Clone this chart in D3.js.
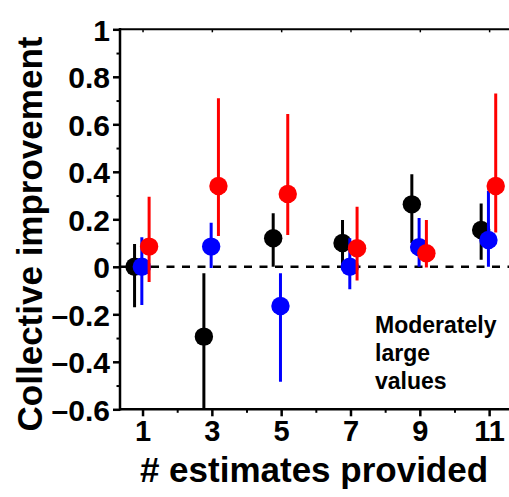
<!DOCTYPE html>
<html>
<head>
<meta charset="utf-8">
<script src="https://cdn.jsdelivr.net/npm/d3@7"></script>
<style>
  html, body { margin: 0; padding: 0; background: #fff; }
  svg { display: block; }
  text { font-family: "Liberation Sans", Arial, Helvetica, sans-serif; font-weight: bold; }
</style>
</head>
<body>
<svg id="chart" width="509" height="497"></svg>
<script>
// ---- data ----
const xValues = [1, 3, 5, 7, 9, 11];
const blackMean = [0.0, -0.294, 0.12, 0.10, 0.263, 0.155];
const blackLow  = [-0.17, -0.6, 0.0, -0.01, 0.10, 0.03];
const blackHigh = [0.096, -0.027, 0.225, 0.197, 0.39, 0.267];
const blueMean  = [0.0, 0.085, -0.165, 0.0, 0.083, 0.113];
const blueLow   = [-0.161, -0.005, -0.484, -0.095, 0.0, 0.0];
const blueHigh  = [0.124, 0.186, -0.027, 0.12, 0.205, 0.32];
const redMean   = [0.085, 0.34, 0.307, 0.078, 0.057, 0.34];
const redLow    = [-0.064, 0.13, 0.134, -0.058, -0.003, 0.144];
const redHigh   = [0.295, 0.71, 0.643, 0.253, 0.197, 0.73];
const yTicks = [-0.6, -0.4, -0.2, 0, 0.2, 0.4, 0.6, 0.8, 1];
const yMinorTicks = [-0.5, -0.3, -0.1, 0.1, 0.3, 0.5, 0.7, 0.9];
const xTicks = [1, 3, 5, 7, 9, 11];
const xMinorTicks = [2, 4, 6, 8, 10];
const xTitle = "# estimates provided";
const yTitle = "Collective improvement";
const noteLines = ["Moderately", "large", "values"];

(function () {
// ---- layout ----
const svg = d3.select("#chart");
const left = 120, topY = 29.3, bottomY = 409.3;
const x = d3.scaleLinear().domain([0.35, 11.65]).range([left, left + 11.3 * 34.66]);
const y = d3.scaleLinear().domain([-0.6, 1]).range([bottomY, topY]);
const fmt = v => v < 0 ? "\u2013" + Math.abs(v) : String(v);

svg.append("defs").append("clipPath").attr("id", "plotclip")
  .append("rect").attr("x", left).attr("y", topY).attr("width", 509 - left).attr("height", bottomY - topY);

// zero dashed line
svg.append("line")
  .attr("x1", left).attr("x2", 509)
  .attr("y1", y(0)).attr("y2", y(0))
  .attr("stroke", "#000").attr("stroke-width", 2.5)
  .attr("stroke-dasharray", "8,7.5");

// series
const series = [
  { color: "#000000", mean: blackMean, low: blackLow, high: blackHigh, off: -0.23 },
  { color: "#0000ff", mean: blueMean, low: blueLow, high: blueHigh, off: -0.02 },
  { color: "#ff0000", mean: redMean, low: redLow, high: redHigh, off: 0.19 }
];
const plot = svg.append("g").attr("clip-path", "url(#plotclip)");
series.forEach(s => {
  const g = plot.append("g");
  const d = xValues.map((xv, i) => ({ x: xv + s.off, m: s.mean[i], lo: s.low[i], hi: s.high[i] }));
  g.selectAll("line").data(d).join("line")
    .attr("x1", p => x(p.x)).attr("x2", p => x(p.x))
    .attr("y1", p => y(p.lo)).attr("y2", p => y(p.hi))
    .attr("stroke", s.color).attr("stroke-width", 3);
  g.selectAll("circle").data(d).join("circle")
    .attr("cx", p => x(p.x)).attr("cy", p => y(p.m))
    .attr("r", 9.2).attr("fill", s.color);
});

// left axis
const yAxis = svg.append("g").attr("transform", `translate(${left},0)`)
  .call(d3.axisLeft(y).tickValues(yTicks).tickSize(7).tickPadding(3).tickFormat(fmt).tickSizeOuter(0));
yAxis.select(".domain").remove();
yAxis.selectAll(".tick line").attr("stroke-width", 2.5);
yAxis.selectAll(".tick text").attr("font-size", 30).attr("dy", "0.36em")
  .style("font-family", '"Liberation Sans", Arial, sans-serif').style("font-weight", "bold").attr("fill", "#000");
const yMinor = svg.append("g").attr("transform", `translate(${left},0)`)
  .call(d3.axisLeft(y).tickValues(yMinorTicks).tickSize(3.5).tickFormat(""));
yMinor.select(".domain").remove();
yMinor.selectAll(".tick line").attr("stroke-width", 2);

// bottom axis
const xAxis = svg.append("g").attr("transform", `translate(0,${bottomY})`)
  .call(d3.axisBottom(x).tickValues(xTicks).tickSize(7).tickPadding(4).tickFormat(d3.format("d")));
xAxis.select(".domain").remove();
xAxis.selectAll(".tick line").attr("stroke-width", 2.5);
xAxis.selectAll(".tick text").attr("font-size", 29)
  .style("font-family", '"Liberation Sans", Arial, sans-serif').style("font-weight", "bold").attr("fill", "#000");
const xMinor = svg.append("g").attr("transform", `translate(0,${bottomY})`)
  .call(d3.axisBottom(x).tickValues(xMinorTicks).tickSize(3.5).tickFormat(""));
xMinor.select(".domain").remove();
xMinor.selectAll(".tick line").attr("stroke-width", 2);

// top axis (line with small inward ticks)
const xTop = svg.append("g").attr("transform", `translate(0,${topY})`)
  .call(d3.axisBottom(x).tickValues(xTicks).tickSize(3).tickFormat(""));
xTop.select(".domain").remove();
xTop.selectAll(".tick line").attr("stroke-width", 1.5);

// frame lines
svg.append("line").attr("x1", left).attr("x2", left).attr("y1", topY - 1.2).attr("y2", bottomY + 1.2)
  .attr("stroke", "#000").attr("stroke-width", 2.5);
svg.append("line").attr("x1", left).attr("x2", 509).attr("y1", bottomY).attr("y2", bottomY)
  .attr("stroke", "#000").attr("stroke-width", 2.5);
svg.append("line").attr("x1", left).attr("x2", 509).attr("y1", topY).attr("y2", topY)
  .attr("stroke", "#000").attr("stroke-width", 2);

// titles
svg.append("text").attr("x", 314).attr("y", 482).attr("text-anchor", "middle")
  .attr("font-size", 35).text(xTitle);
svg.append("text").attr("transform", "translate(42,234) rotate(-90)").attr("text-anchor", "middle")
  .attr("font-size", 35).text(yTitle);

// annotation
svg.append("text").attr("x", 375).attr("y", 333).attr("font-size", 23)
  .selectAll("tspan").data(noteLines).join("tspan")
  .attr("x", 375).attr("dy", (d, i) => i === 0 ? 0 : 28).text(d => d);
})();
</script>
</body>
</html>
